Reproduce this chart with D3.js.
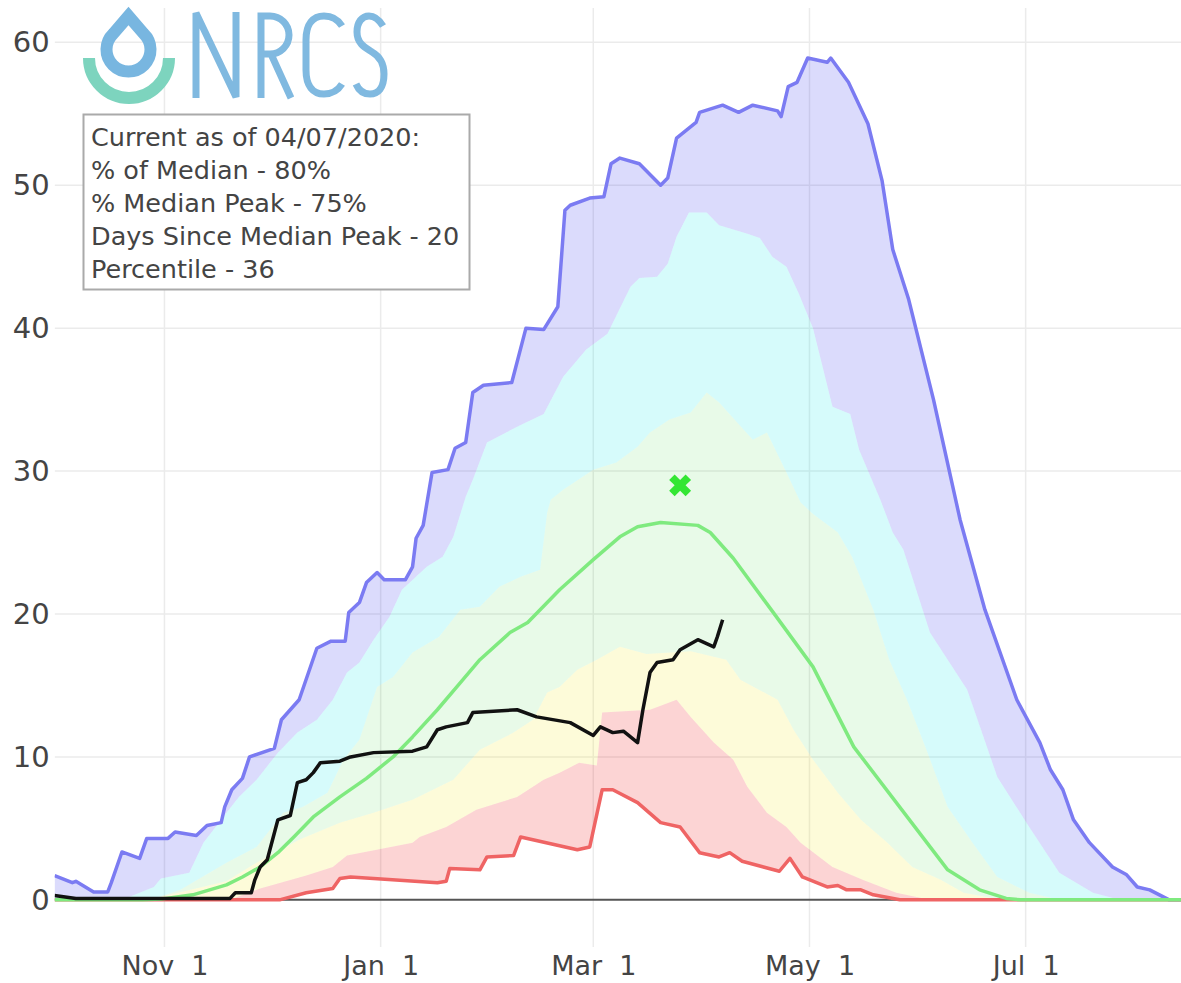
<!DOCTYPE html>
<html>
<head>
<meta charset="utf-8">
<title>Snow Water Equivalent - NRCS</title>
<script src="https://cdn.jsdelivr.net/npm/d3@7"></script>
<style>
  html, body { margin: 0; padding: 0; background: #fff; }
  svg { display: block; font-family: "DejaVu Sans", Verdana, sans-serif; }
</style>
</head>
<body>
<svg id="chart" width="1181" height="983"></svg>
<script>
// [days since Oct 1 2019, inches]
var maxSeries = [[0,1.7],[5,1.2],[6,1.3],[11,0.55],[15,0.55],[16,1.2],[19,3.35],[24,2.9],[26,4.3],[32,4.3],[34,4.75],[40,4.5],[43,5.2],[47,5.4],[48,6.5],[50,7.7],[53,8.5],[55,10],[62,10.6],[64,12.6],[69,14],[74,17.6],[78,18.1],[82,18.1],[83,20.1],[86,20.8],[88,22.2],[91,22.9],[93,22.4],[99,22.4],[101,23.3],[102,25.3],[104,26.2],[106.5,29.9],[111,30.1],[113,31.6],[116,32],[118,35.5],[121,36],[129,36.2],[133,40],[138,39.9],[142,41.5],[144,48.25],[145.5,48.6],[151,49.1],[155,49.2],[157,51.5],[159.5,51.9],[165,51.5],[171,50],[173,50.5],[175.5,53.3],[181,54.4],[182,55.1],[188.5,55.6],[193,55.1],[197,55.6],[204,55.2],[205,54.8],[207,56.9],[209.5,57.2],[212.5,58.9],[218,58.6],[219,58.9],[224,57.2],[229.5,54.3],[233.5,50.3],[236.5,45.5],[241,42],[248,35],[255.5,26.6],[262.5,20.3],[271.5,14],[278,11],[281,9.1],[284.5,7.7],[287.5,5.6],[292,4],[298.5,2.3],[302.5,1.75],[305.5,0.9],[309,0.7],[314.5,0],[318,0]];
var p90 = [[0,0],[21,0.2],[28,0.9],[30,1.5],[38,1.9],[42,4],[48.5,6.1],[52,7.2],[57,8.4],[63,10.3],[68.5,11.7],[74,12.6],[78.5,14],[82.5,15.9],[86,16.6],[90,18.2],[94.5,19.8],[98,21.7],[105,23.3],[109.5,24],[112.5,25.4],[116,28.2],[118,29.4],[122,32],[130.5,33.1],[138,34],[143.5,36.6],[150,38.5],[156,39.6],[162.5,42.9],[165,43.5],[170,43.6],[173,44.5],[175.5,46.4],[179,48.1],[184,48.1],[187.5,47.2],[195.5,46.6],[199,46.3],[202.5,45],[206.5,44.3],[210,42.4],[214,40],[219.5,34.5],[224.5,34],[227,31.5],[233,28],[236.5,25.7],[239.5,24.5],[247,18.7],[257.5,14.7],[266,8.6],[275,5.1],[283.5,1.9],[293,0.5],[300.5,0],[318,0]];
var p70 = [[0,0],[27,0],[35.5,0.7],[48.5,2.6],[57,3.7],[64.5,6.1],[70,6.5],[77,7.5],[81.5,9.8],[86,11.2],[91,14.9],[95.5,15.6],[101,17.3],[108.5,18.4],[114.5,20.3],[120,20.5],[125.5,21.9],[131.5,22.6],[137,23.1],[139,27.1],[140,28],[143.5,28.7],[152,30.1],[158.5,30.6],[164.5,31.7],[168,32.7],[173.5,33.6],[179.5,34.1],[184,35.5],[187.5,34.8],[197,32.2],[201,32.7],[206.5,29.9],[210.5,27.8],[214,27],[221,25.7],[225,24],[231,20.3],[235.5,16.8],[240.5,14],[246,10.5],[252,6.5],[259,4],[266,1.6],[275,0.5],[283.5,0],[318,0]];
var p30 = [[0,0],[27,0],[32.5,0.35],[48.5,1.3],[57,2.6],[69,4.2],[80.5,5.4],[90,6.1],[101,7],[112.5,8.4],[120,10.5],[129.5,11.7],[135,12.6],[139,14.5],[142.5,14.9],[147.5,16.1],[153,16.8],[159.5,17.7],[167,17.2],[179.5,17.4],[189.5,16.8],[193.5,15.4],[204,14],[208.5,11.9],[214,9.8],[221,7.5],[227.5,5.6],[235,4],[242,2.3],[250,1.4],[256.5,0.5],[267,0],[318,0]];
var p10 = [[0,0],[49.5,0],[51.5,0.2],[58,0.8],[71,1.7],[78.5,2.3],[82.5,3.1],[101,4],[103,4.4],[110.5,5.1],[119,6.3],[130.5,7.2],[138,8.4],[142.5,8.9],[148,9.6],[153,9.4],[154.5,13.1],[168,13.3],[175.5,14],[179.5,12.8],[186,11],[191.5,9.8],[195.5,7.9],[201,6.1],[206.5,5.1],[210.5,4],[219.5,2.3],[228,1.4],[237.5,0.5],[247,0],[318,0]];
var minSeries = [[0,0],[63.5,0],[71,0.5],[78.5,0.8],[80.5,1.5],[83.5,1.6],[90,1.5],[108,1.2],[110.5,1.3],[111.5,2.2],[120,2.1],[122,3],[129.5,3.1],[131.5,4.4],[147.5,3.5],[151,3.7],[154.5,7.7],[157.5,7.7],[164.5,6.8],[171,5.4],[176.5,5.1],[182,3.3],[187.5,3],[190.5,3.3],[194,2.7],[204.5,2],[207.5,2.9],[211,1.6],[218,0.9],[221,1],[223.5,0.7],[227.5,0.7],[231,0.35],[238.5,0],[318,0]];
var median = [[0,0],[25,0],[30,0.05],[39,0.35],[48.5,1.05],[53,1.6],[58,2.3],[63,3.3],[67.5,4.4],[73,5.8],[80.5,7.2],[88,8.5],[95.5,10],[101,11.4],[108,13.3],[114.5,15.2],[120,16.8],[128.5,18.7],[133.5,19.4],[142.5,21.7],[152,23.8],[159.5,25.4],[164.5,26.1],[171,26.4],[181.5,26.2],[185,25.7],[191.5,23.9],[202.5,20.2],[214,16.3],[225.5,10.7],[252,2.1],[261,0.7],[268.5,0.1],[272.5,0],[318,0]];
var current = [[0,0.3],[6,0.1],[49.5,0.1],[51,0.5],[55.5,0.5],[56.5,1.4],[58,2.3],[60,2.8],[63,5.6],[66.5,5.9],[68.5,8.2],[71,8.4],[73,8.9],[75,9.6],[80.5,9.7],[83.5,10],[90,10.3],[101,10.4],[105,10.7],[108,11.9],[110.5,12.1],[116.5,12.4],[118,13.1],[130.5,13.3],[136,12.8],[145.5,12.4],[152,11.5],[154,12.1],[157.5,11.7],[160.5,11.8],[164.5,11],[166,13.3],[168,15.9],[170,16.6],[174.5,16.8],[176.5,17.5],[181.5,18.2],[186,17.7],[187,18.4],[188.5,19.6]];
var medianPeak = [[176.5, 29.0]];

var xTicks = ["2019-11-01", "2020-01-01", "2020-03-01", "2020-05-01", "2020-07-01"];
var yTicks = [0, 10, 20, 30, 40, 50, 60];
var infoLines = [
  "Current as of 04/07/2020:",
  "% of Median - 80%",
  "% Median Peak - 75%",
  "Days Since Median Peak - 20",
  "Percentile - 36"
];

var start = Date.UTC(2019, 9, 1);
function toDate(d) { return new Date(start + d * 864e5); }

var plotLeft = 54.6, plotTop = 8, plotBottom = 947, plotRight = 1181;
var x = d3.scaleUtc().domain([toDate(0), toDate(318)]).range([plotLeft, plotLeft + 318 * 3.544]);
var y = d3.scaleLinear().domain([-3.3, 62.4]).range([plotBottom, plotTop]);

var svg = d3.select("#chart");

svg.append("clipPath").attr("id", "plot-clip")
  .append("rect").attr("x", plotLeft).attr("y", plotTop)
  .attr("width", plotRight - plotLeft).attr("height", plotBottom - plotTop);

var line = d3.line().x(function(d) { return x(toDate(d[0])); }).y(function(d) { return y(d[1]); });

function band(upper, lower) {
  return line(upper.concat(lower.slice().reverse())) + "Z";
}

var plot = svg.append("g").attr("clip-path", "url(#plot-clip)");

// grid
plot.append("g").selectAll("line").data(yTicks.filter(function(v) { return v > 0; })).join("line")
  .attr("x1", plotLeft).attr("x2", plotRight)
  .attr("y1", function(v) { return y(v); }).attr("y2", function(v) { return y(v); })
  .attr("stroke", "#ebebeb").attr("stroke-width", 1.5);
plot.append("g").selectAll("line").data(xTicks).join("line")
  .attr("x1", function(d) { return x(new Date(d)); }).attr("x2", function(d) { return x(new Date(d)); })
  .attr("y1", plotTop).attr("y2", plotBottom)
  .attr("stroke", "#ebebeb").attr("stroke-width", 1.5);

// zero line
plot.append("line")
  .attr("x1", plotLeft).attr("x2", plotRight).attr("y1", y(0)).attr("y2", y(0))
  .attr("stroke", "#555").attr("stroke-width", 2);

// percentile bands
var bands = [
  [maxSeries, p90, "rgba(40,40,235,0.17)"],
  [p90, p70, "rgba(0,230,230,0.16)"],
  [p70, p30, "rgba(0,200,0,0.09)"],
  [p30, p10, "rgba(240,230,0,0.15)"],
  [p10, minSeries, "rgba(240,0,0,0.17)"]
];
plot.append("g").selectAll("path").data(bands).join("path")
  .attr("d", function(b) { return band(b[0], b[1]); })
  .attr("fill", function(b) { return b[2]; });

var lines = [
  [maxSeries, "#7b7bf2", 3.5],
  [minSeries, "#ef6464", 3.5],
  [median, "#7fea7f", 3.5],
  [current, "#111", 3.5]
];
plot.append("g").selectAll("path").data(lines).join("path")
  .attr("d", function(l) { return line(l[0]); })
  .attr("fill", "none")
  .attr("stroke", function(l) { return l[1]; })
  .attr("stroke-width", function(l) { return l[2]; })
  .attr("stroke-linejoin", "round");

plot.append("g").selectAll("path").data(medianPeak).join("path")
  .attr("d", d3.symbol(d3.symbolCross, 300))
  .attr("transform", function(d) { return "translate(" + x(toDate(d[0])) + "," + y(d[1]) + ") rotate(45)"; })
  .attr("fill", "#33e633");

// axes
var xAxis = svg.append("g").attr("transform", "translate(0," + plotBottom + ")")
  .call(d3.axisBottom(x).tickValues(xTicks.map(function(d) { return new Date(d); }))
    .tickFormat(d3.utcFormat("%b  %-d")).tickSize(0).tickPadding(9));
xAxis.select(".domain").remove();
xAxis.selectAll("text").attr("fill", "#444").style("font-size", "27px")
  .style("white-space", "pre").style("font-family", "'DejaVu Sans', Verdana, sans-serif");

var yAxis = svg.append("g").attr("transform", "translate(" + plotLeft + ",0)")
  .call(d3.axisLeft(y).tickValues(yTicks).tickSize(0).tickPadding(5));
yAxis.select(".domain").remove();
yAxis.selectAll("text").attr("fill", "#444").style("font-size", "29px")
  .style("font-family", "'DejaVu Sans', Verdana, sans-serif");

// NRCS logo
var logo = svg.append("g").attr("fill", "none").attr("stroke-width", 7);
logo.append("path").attr("d", "M89,58 A40,40 0 0 0 169,58").attr("stroke", "#7dd4be").attr("stroke-width", 12);
logo.append("path").attr("d", "M128.5,16 L113.3,33.6 A22,22 0 1 0 143.7,33.6 Z")
  .attr("stroke", "#78b6e0").attr("stroke-width", 12).attr("stroke-linejoin", "miter");
logo.append("path").attr("stroke", "#80b9e0")
  .attr("d", "M196,98 V13 L236,97 V12 " +
    "M261,98 V16 H270 A19,19 0 0 1 270,54 H261 M271,54 L291,98 " +
    "M342,26 C337,18 331,16 324,16 C313,16 306,24 306,40 V70 C306,86 313,94 324,94 C331,94 337,92 342,84 " +
    "M383,26 C378,18 373,16 369,16 C362,16 357,22 357,32 C357,44 366,48 372,52 C379,56 384,62 384,74 C384,88 378,94 370,94 C364,94 359,91 356,84");

// info box
var info = svg.append("g");
info.append("rect").attr("x", 83.5).attr("y", 114.5).attr("width", 386).attr("height", 175)
  .attr("fill", "#fff").attr("stroke", "#aaa").attr("stroke-width", 2);
info.selectAll("text").data(infoLines).join("text")
  .attr("x", 91).attr("y", function(d, i) { return 146 + i * 33; })
  .attr("fill", "#444").style("font-size", "25.5px")
  .text(function(d) { return d; });
</script>
</body>
</html>
